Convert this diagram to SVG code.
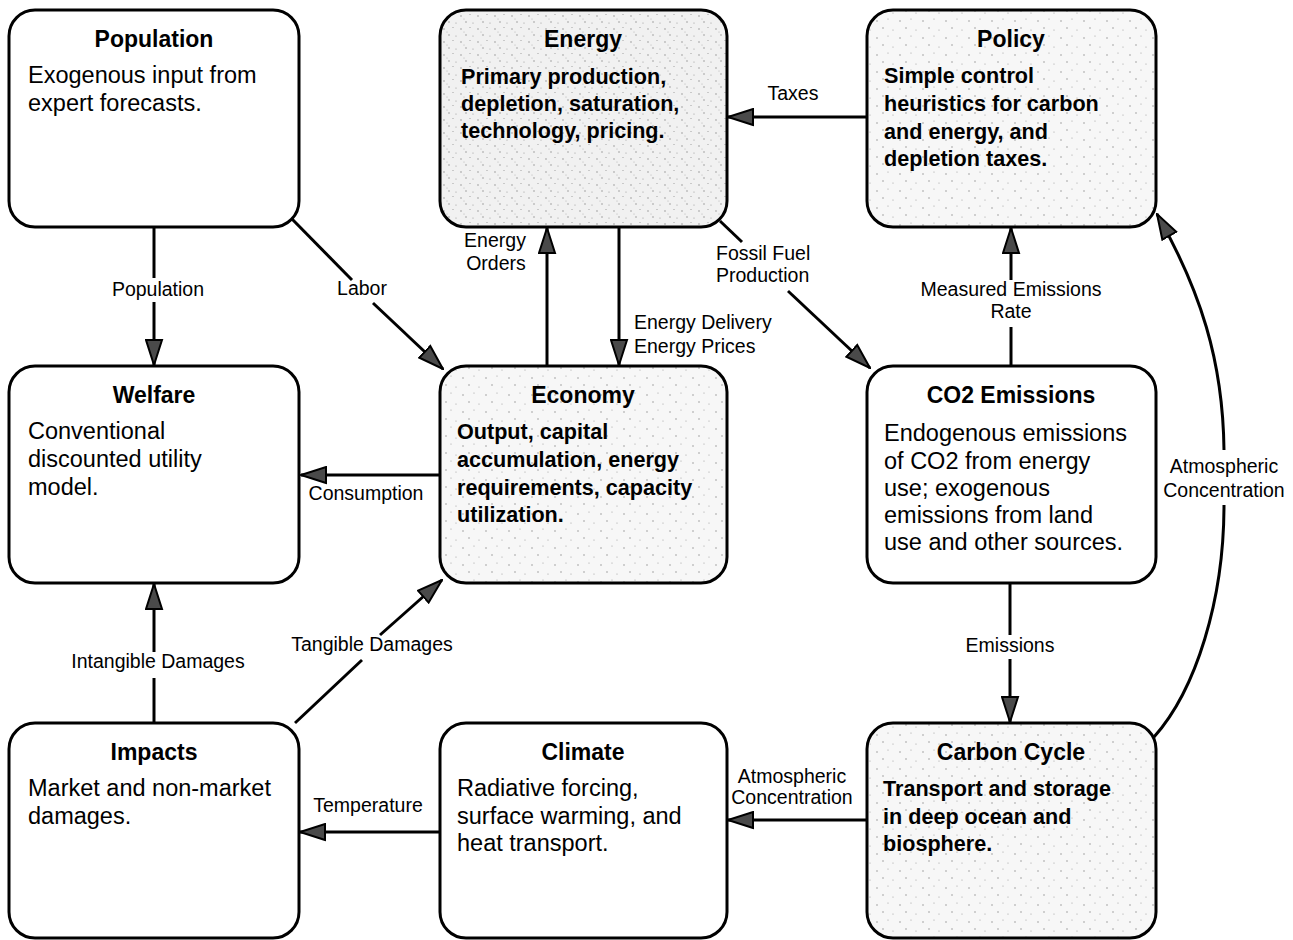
<svg xmlns="http://www.w3.org/2000/svg" width="1293" height="940" viewBox="0 0 1293 940">
<defs>
<style>
.box{stroke:#000;stroke-width:3;fill:#fff}
.stip{fill:url(#stip)}
.stip2{fill:url(#stip2)}
text{font-family:"Liberation Sans",Arial,Helvetica,sans-serif;fill:#000}
.t{font-weight:bold;font-size:23px;text-anchor:middle}
.b{font-size:23.5px}
.bb{font-size:21.6px;font-weight:bold}
.l{font-size:19.5px;text-anchor:middle}
.ls{font-size:19.5px;text-anchor:start}
.c{fill:none;stroke:#000;stroke-width:3;stroke-linecap:butt}
.a{marker-end:url(#arr)}
</style>
<pattern id="stip" width="23" height="17" patternUnits="userSpaceOnUse">
<rect width="23" height="17" fill="#f7f7f7"/>
<circle cx="3" cy="4" r="0.7" fill="#8a8a8a"/>
<circle cx="14" cy="2" r="0.6" fill="#a0a0a0"/>
<circle cx="9" cy="11" r="0.7" fill="#8a8a8a"/>
<circle cx="19" cy="13" r="0.6" fill="#a0a0a0"/>
</pattern>
<pattern id="stip2" width="17" height="13" patternUnits="userSpaceOnUse">
<rect width="17" height="13" fill="#f1f1f1"/>
<circle cx="2" cy="3" r="0.7" fill="#888"/>
<circle cx="11" cy="1.5" r="0.6" fill="#999"/>
<circle cx="7" cy="9" r="0.7" fill="#888"/>
<circle cx="14" cy="10" r="0.6" fill="#999"/>
<circle cx="5" cy="6" r="0.5" fill="#aaa"/>
</pattern>
<marker id="arr" viewBox="0 0 27 19" refX="26" refY="9.5" markerWidth="27" markerHeight="19" markerUnits="userSpaceOnUse" orient="auto">
<path d="M1,1.5 L26,9.5 L1,17.5 Z" fill="#4a4a4a" stroke="#000" stroke-width="2" stroke-linejoin="miter"/>
</marker>
</defs>
<rect width="1293" height="940" fill="#fff"/>

<g id="connectors">
<line class="c" x1="154" y1="227" x2="154" y2="278"/>
<line class="c a" x1="154" y1="302" x2="154" y2="365"/>
<line class="c" x1="292" y1="219" x2="352" y2="280"/>
<line class="c a" x1="373" y1="303" x2="443" y2="369"/>
<line class="c a" x1="440" y1="475" x2="301" y2="475"/>
<line class="c a" x1="547" y1="366" x2="547" y2="228"/>
<line class="c a" x1="619" y1="227" x2="619" y2="365"/>
<line class="c" x1="720" y1="221" x2="742" y2="242"/>
<line class="c a" x1="788" y1="291" x2="870" y2="368"/>
<line class="c a" x1="867" y1="117" x2="728" y2="117"/>
<line class="c" x1="1011" y1="366" x2="1011" y2="327"/>
<line class="c a" x1="1011" y1="280" x2="1011" y2="228"/>
<line class="c" x1="1010" y1="583" x2="1010" y2="635"/>
<line class="c a" x1="1010" y1="659" x2="1010" y2="722"/>
<line class="c a" x1="867" y1="820" x2="728" y2="820"/>
<line class="c a" x1="440" y1="832" x2="300" y2="832"/>
<line class="c" x1="154" y1="723" x2="154" y2="678"/>
<line class="c a" x1="154" y1="652" x2="154" y2="584"/>
<line class="c" x1="295" y1="723" x2="362" y2="660"/>
<line class="c a" x1="380" y1="635" x2="442" y2="580"/>
<path class="c" d="M1154,737 C1196,690 1224,600 1224,505"/>
<path class="c a" d="M1224,450 C1223,360 1200,290 1157,214"/>
</g>

<g id="population">
<rect class="box" x="9" y="10" width="290" height="217" rx="26"/>
<text class="t" x="154" y="47">Population</text>
<text class="b" x="28" y="83">Exogenous input from</text>
<text class="b" x="28" y="111">expert forecasts.</text>
</g>

<g id="energy">
<rect class="box stip2" x="440" y="10" width="287" height="217" rx="26"/>
<text class="t" x="583" y="47">Energy</text>
<text class="bb" x="461" y="84">Primary production,</text>
<text class="bb" x="461" y="111">depletion, saturation,</text>
<text class="bb" x="461" y="138">technology, pricing.</text>
</g>

<g id="policy">
<rect class="box stip" x="867" y="10" width="289" height="217" rx="26"/>
<text class="t" x="1011" y="47">Policy</text>
<text class="bb" x="884" y="83">Simple control</text>
<text class="bb" x="884" y="111">heuristics for carbon</text>
<text class="bb" x="884" y="139">and energy, and</text>
<text class="bb" x="884" y="166">depletion taxes.</text>
</g>

<g id="welfare">
<rect class="box" x="9" y="366" width="290" height="217" rx="26"/>
<text class="t" x="154" y="403">Welfare</text>
<text class="b" x="28" y="439">Conventional</text>
<text class="b" x="28" y="467">discounted utility</text>
<text class="b" x="28" y="495">model.</text>
</g>

<g id="economy">
<rect class="box stip" x="440" y="366" width="287" height="217" rx="26"/>
<text class="t" x="583" y="403">Economy</text>
<text class="bb" x="457" y="439">Output, capital</text>
<text class="bb" x="457" y="467">accumulation, energy</text>
<text class="bb" x="457" y="495">requirements, capacity</text>
<text class="bb" x="457" y="522">utilization.</text>
</g>

<g id="co2-emissions">
<rect class="box" x="867" y="366" width="289" height="217" rx="26"/>
<text class="t" x="1011" y="403">CO2 Emissions</text>
<text class="b" x="884" y="441">Endogenous emissions</text>
<text class="b" x="884" y="469">of CO2 from energy</text>
<text class="b" x="884" y="496">use; exogenous</text>
<text class="b" x="884" y="523">emissions from land</text>
<text class="b" x="884" y="550">use and other sources.</text>
</g>

<g id="impacts">
<rect class="box" x="9" y="723" width="290" height="215" rx="26"/>
<text class="t" x="154" y="760">Impacts</text>
<text class="b" x="28" y="796">Market and non-market</text>
<text class="b" x="28" y="824">damages.</text>
</g>

<g id="climate">
<rect class="box" x="440" y="723" width="287" height="215" rx="26"/>
<text class="t" x="583" y="760">Climate</text>
<text class="b" x="457" y="796">Radiative forcing,</text>
<text class="b" x="457" y="824">surface warming, and</text>
<text class="b" x="457" y="851">heat transport.</text>
</g>

<g id="carbon-cycle">
<rect class="box stip" x="867" y="723" width="289" height="215" rx="26"/>
<text class="t" x="1011" y="760">Carbon Cycle</text>
<text class="bb" x="883" y="796">Transport and storage</text>
<text class="bb" x="883" y="824">in deep ocean and</text>
<text class="bb" x="883" y="851">biosphere.</text>
</g>

<g id="labels">
<text class="l" x="158" y="296">Population</text>
<text class="l" x="362" y="295">Labor</text>
<text class="l" x="366" y="500">Consumption</text>
<text class="l" x="495" y="247">Energy</text>
<text class="l" x="496" y="270">Orders</text>
<text class="ls" x="634" y="329">Energy Delivery</text>
<text class="ls" x="634" y="353">Energy Prices</text>
<text class="ls" x="716" y="260">Fossil Fuel</text>
<text class="ls" x="716" y="282">Production</text>
<text class="l" x="793" y="100">Taxes</text>
<text class="l" x="1011" y="296">Measured Emissions</text>
<text class="l" x="1011" y="318">Rate</text>
<text class="l" x="1224" y="473">Atmospheric</text>
<text class="l" x="1224" y="497">Concentration</text>
<text class="l" x="1010" y="652">Emissions</text>
<text class="l" x="792" y="783">Atmospheric</text>
<text class="l" x="792" y="804">Concentration</text>
<text class="l" x="368" y="812">Temperature</text>
<text class="l" x="158" y="668">Intangible Damages</text>
<text class="l" x="372" y="651">Tangible Damages</text>
</g>
</svg>
